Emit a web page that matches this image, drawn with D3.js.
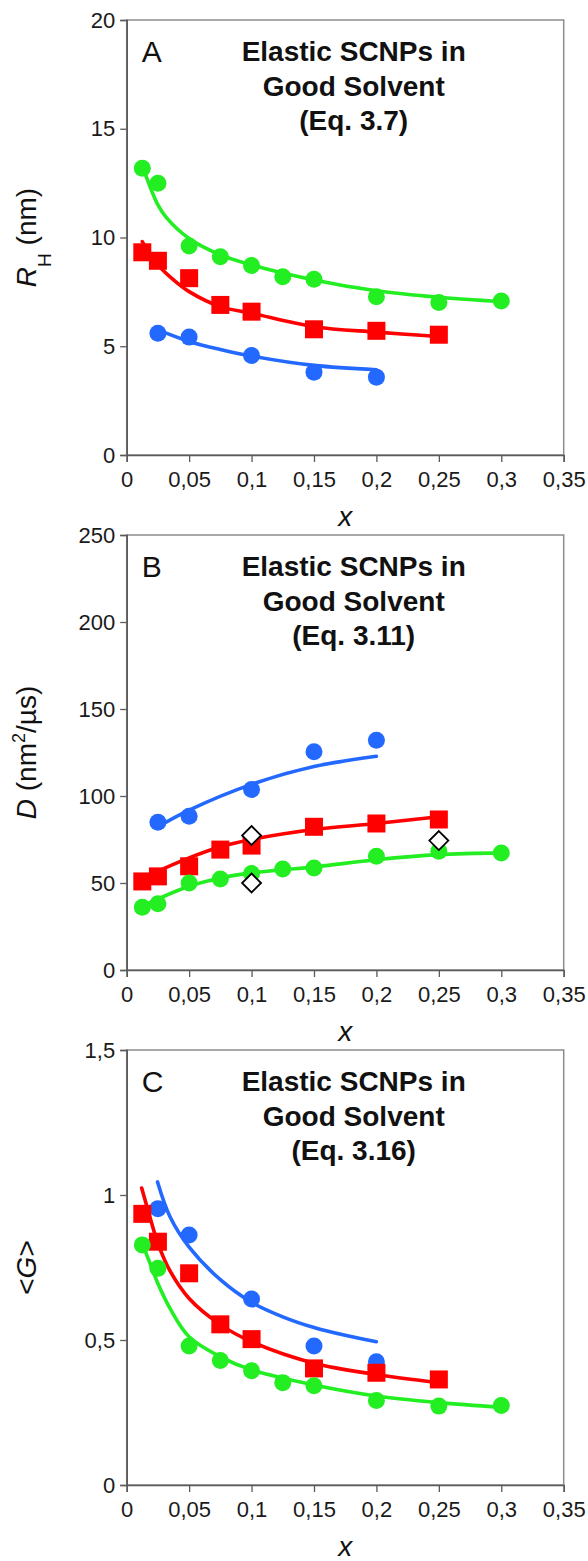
<!DOCTYPE html>
<html>
<head>
<meta charset="utf-8">
<script src="https://cdnjs.cloudflare.com/ajax/libs/d3/7.8.5/d3.min.js"></script>
<style>
  body { margin: 0; background: #fff; }
  svg { display: block; font-family: "Liberation Sans", Arial, sans-serif; }
</style>
</head>
<body>
<div id="chart"></div>
<script>
// ---- data ----

// x axis, shared by all three panels
var xTicks = [0, 0.05, 0.1, 0.15, 0.2, 0.25, 0.3, 0.35];
var xTickLabels = ["0", "0,05", "0,1", "0,15", "0,2", "0,25", "0,3", "0,35"];

// x of the measured points for each series
var xGreen = [0.0125, 0.025, 0.05, 0.075, 0.1, 0.125, 0.15, 0.2, 0.25, 0.3];
var xRed = [0.0125, 0.025, 0.05, 0.075, 0.1, 0.15, 0.2, 0.25];
var xBlue = [0.025, 0.05, 0.1, 0.15, 0.2];

// panel A : R_H (nm)
var rhTicks = [0, 5, 10, 15, 20];
var rhTickLabels = ["0", "5", "10", "15", "20"];
var rhGreen = [13.18, 12.49, 9.61, 9.12, 8.71, 8.20, 8.08, 7.28, 7.01, 7.08];
var rhRed = [9.32, 8.93, 8.13, 6.90, 6.59, 5.78, 5.71, 5.53];
var rhBlue = [5.60, 5.42, 4.57, 3.81, 3.58];
var rhFitGreenX = [0.0147, 0.025, 0.032, 0.05, 0.075, 0.1, 0.15, 0.2, 0.25, 0.3];
var rhFitGreen = [12.95, 11.5, 10.9, 9.95, 9.2, 8.74, 8.05, 7.55, 7.25, 7.05];
var rhFitRedX = [0.0125, 0.025, 0.0375, 0.05, 0.075, 0.1, 0.15, 0.2, 0.25];
var rhFitRed = [9.81, 8.74, 8.05, 7.51, 6.82, 6.52, 5.90, 5.65, 5.45];
var rhFitBlueX = [0.025, 0.05, 0.075, 0.1, 0.15, 0.2];
var rhFitBlue = [5.75, 5.22, 4.85, 4.55, 4.12, 3.92];

// panel B : D (nm2/us)
var dTicks = [0, 50, 100, 150, 200, 250];
var dTickLabels = ["0", "50", "100", "150", "200", "250"];
var dGreen = [36.1, 38.1, 50.0, 52.3, 55.4, 58.1, 58.6, 65.4, 68.3, 67.3];
var dRed = [50.9, 53.8, 59.6, 69.2, 71.5, 82.3, 84.2, 86.5];
var dBlue = [84.9, 88.4, 103.8, 125.4, 132.0];
var dOpenX = [0.1, 0.1, 0.25];
var dOpen = [77.3, 50.0, 74.4];
var dFitGreenX = [0.0125, 0.025, 0.05, 0.075, 0.1, 0.15, 0.2, 0.25, 0.3];
var dFitGreen = [36.5, 40.8, 48.1, 52.9, 55.8, 59.2, 63.4, 66.3, 67.3];
var dFitRedX = [0.0125, 0.025, 0.05, 0.075, 0.1, 0.15, 0.2, 0.25];
var dFitRed = [52.3, 56.7, 64.4, 70.8, 75.0, 80.7, 84.2, 88.1];
var dFitBlueX = [0.025, 0.05, 0.1, 0.15, 0.2];
var dFitBlue = [82.3, 91.9, 106.7, 116.9, 122.8];

// panel C : <G>
var gTicks = [0, 0.5, 1, 1.5];
var gTickLabels = ["0", "0,5", "1", "1,5"];
var gGreen = [0.828, 0.747, 0.479, 0.429, 0.394, 0.353, 0.342, 0.291, 0.272, 0.274];
var gRed = [0.935, 0.839, 0.730, 0.554, 0.503, 0.402, 0.387, 0.364];
var gBlue = [0.953, 0.862, 0.641, 0.479, 0.425];
var gFitGreenX = [0.0125, 0.0187, 0.025, 0.0347, 0.05, 0.075, 0.1, 0.15, 0.2, 0.25, 0.3];
var gFitGreen = [0.833, 0.764, 0.695, 0.609, 0.511, 0.442, 0.397, 0.345, 0.307, 0.284, 0.268];
var gFitRedX = [0.012, 0.0172, 0.025, 0.0347, 0.05, 0.075, 0.1, 0.15, 0.2, 0.25];
var gFitRed = [1.024, 0.945, 0.833, 0.738, 0.643, 0.553, 0.494, 0.420, 0.381, 0.353];
var gFitBlueX = [0.0247, 0.0347, 0.05, 0.075, 0.1, 0.125, 0.15, 0.175, 0.2];
var gFitBlue = [1.045, 0.925, 0.820, 0.708, 0.630, 0.580, 0.543, 0.516, 0.494];

var green = "#22ee22", red = "#ff0000", blue = "#2369ff";

// ---- layout ----
var svgWidth = 588, svgHeight = 1561;
var margin = { left: 126.7 };
var width = 437, height = 435;

var svg = d3.select("#chart")
  .append("svg")
  .attr("width", svgWidth)
  .attr("height", svgHeight);

svg.append("rect").attr("width", svgWidth).attr("height", svgHeight).attr("fill", "#fff");

var x = d3.scaleLinear().domain([0, 0.35]).range([0, width]);

function drawPanel(p) {
  var g = svg.append("g")
    .attr("transform", `translate(${margin.left}, ${p.top})`);

  var y = d3.scaleLinear().domain(p.yDomain).range([height, 0]);

  // grey frame round the plot area
  g.append("rect")
    .attr("width", width)
    .attr("height", height)
    .attr("fill", "none")
    .attr("stroke", "#8c8c8c")
    .attr("stroke-width", 1.5);

  var bottomAxis = d3.axisBottom(x)
    .tickValues(xTicks)
    .tickFormat((d, i) => xTickLabels[i])
    .tickSize(7).tickPadding(9);
  var leftAxis = d3.axisLeft(y)
    .tickValues(p.yTicks)
    .tickFormat((d, i) => p.yTickLabels[i])
    .tickSize(6.5).tickPadding(5);

  var xg = g.append("g").attr("transform", `translate(0, ${height})`).call(bottomAxis);
  var yg = g.append("g").call(leftAxis);
  [xg, yg].forEach(function(a) {
    a.select(".domain").attr("stroke", "#5a5a5a").attr("stroke-width", 1.6);
    a.selectAll(".tick line").attr("stroke", "#5a5a5a").attr("stroke-width", 1.3);
    a.selectAll(".tick text")
      .attr("font-size", 22)
      .attr("font-family", "Liberation Sans, Arial, sans-serif")
      .attr("fill", "#1a1a1a");
  });

  // fitted curves
  var line = d3.line()
    .x(d => x(d[0]))
    .y(d => y(d[1]))
    .curve(d3.curveCatmullRom.alpha(0.5));

  p.fits.forEach(function(f) {
    g.append("path")
      .datum(d3.zip(f.x, f.y))
      .attr("d", line)
      .attr("fill", "none")
      .attr("stroke", f.color)
      .attr("stroke-width", 3.6)
      .attr("stroke-linecap", "round");
  });

  // blue circles
  g.selectAll(".blue")
    .data(d3.zip(xBlue, p.blue))
    .enter()
    .append("circle")
    .attr("cx", d => x(d[0]))
    .attr("cy", d => y(d[1]))
    .attr("r", 8.5)
    .attr("fill", blue);

  // red squares
  g.selectAll(".red")
    .data(d3.zip(xRed, p.red))
    .enter()
    .append("rect")
    .attr("x", d => x(d[0]) - 9)
    .attr("y", d => y(d[1]) - 9)
    .attr("width", 18)
    .attr("height", 18)
    .attr("fill", red);

  // green circles
  g.selectAll(".green")
    .data(d3.zip(xGreen, p.green))
    .enter()
    .append("circle")
    .attr("cx", d => x(d[0]))
    .attr("cy", d => y(d[1]))
    .attr("r", 8.5)
    .attr("fill", green);

  // open diamonds (panel B only)
  if (p.open) {
    g.selectAll(".open")
      .data(d3.zip(p.openX, p.open))
      .enter()
      .append("path")
      .attr("transform", d => `translate(${x(d[0])}, ${y(d[1])})`)
      .attr("d", "M0,-9.5L9.5,0L0,9.5L-9.5,0Z")
      .attr("fill", "#fff")
      .attr("stroke", "#000")
      .attr("stroke-width", 1.8);
  }

  // panel letter
  g.append("text")
    .attr("x", 15)
    .attr("y", 42)
    .attr("font-size", 30)
    .attr("fill", "#111")
    .text(p.letter);

  // three line title
  var titleLines = ["Elastic SCNPs in", "Good Solvent", p.eq];
  g.selectAll(".title")
    .data(titleLines)
    .enter()
    .append("text")
    .attr("x", 227)
    .attr("y", (d, i) => 41 + i * 34.5)
    .attr("text-anchor", "middle")
    .attr("font-size", 28)
    .attr("font-weight", "bold")
    .attr("fill", "#111")
    .text(d => d);

  // x axis title
  g.append("text")
    .attr("x", width / 2)
    .attr("y", height + 71)
    .attr("text-anchor", "middle")
    .attr("font-size", 28)
    .attr("font-style", "italic")
    .attr("fill", "#111")
    .text("x");

  // y axis title (rotated)
  var yt = g.append("text")
    .attr("transform", `translate(${36 - margin.left}, ${height / 2}) rotate(-90)`)
    .attr("text-anchor", "middle")
    .attr("font-size", 28)
    .attr("fill", "#111");
  p.yTitle(yt);
}

drawPanel({
  top: 20, letter: "A", eq: "(Eq. 3.7)",
  yDomain: [0, 20], yTicks: rhTicks, yTickLabels: rhTickLabels,
  green: rhGreen, red: rhRed, blue: rhBlue,
  fits: [
    { x: rhFitBlueX, y: rhFitBlue, color: blue },
    { x: rhFitRedX, y: rhFitRed, color: red },
    { x: rhFitGreenX, y: rhFitGreen, color: green }
  ],
  yTitle: function(t) {
    t.append("tspan").attr("font-style", "italic").text("R");
    t.append("tspan").attr("font-size", 19).attr("dy", 15).text("H");
    t.append("tspan").attr("dy", -15).text(" (nm)");
  }
});

drawPanel({
  top: 535, letter: "B", eq: "(Eq. 3.11)",
  yDomain: [0, 250], yTicks: dTicks, yTickLabels: dTickLabels,
  green: dGreen, red: dRed, blue: dBlue,
  openX: dOpenX, open: dOpen,
  fits: [
    { x: dFitBlueX, y: dFitBlue, color: blue },
    { x: dFitRedX, y: dFitRed, color: red },
    { x: dFitGreenX, y: dFitGreen, color: green }
  ],
  yTitle: function(t) {
    t.append("tspan").attr("font-style", "italic").text("D");
    t.append("tspan").text(" (nm");
    t.append("tspan").attr("font-size", 18).attr("dy", -11).text("2");
    t.append("tspan").attr("dy", 11).text("/\u00b5s)");
  }
});

drawPanel({
  top: 1050, letter: "C", eq: "(Eq. 3.16)",
  yDomain: [0, 1.5], yTicks: gTicks, yTickLabels: gTickLabels,
  green: gGreen, red: gRed, blue: gBlue,
  fits: [
    { x: gFitBlueX, y: gFitBlue, color: blue },
    { x: gFitRedX, y: gFitRed, color: red },
    { x: gFitGreenX, y: gFitGreen, color: green }
  ],
  yTitle: function(t) {
    t.append("tspan").text("<");
    t.append("tspan").attr("font-style", "italic").text("G");
    t.append("tspan").text(">");
  }
});
</script>
</body>
</html>
